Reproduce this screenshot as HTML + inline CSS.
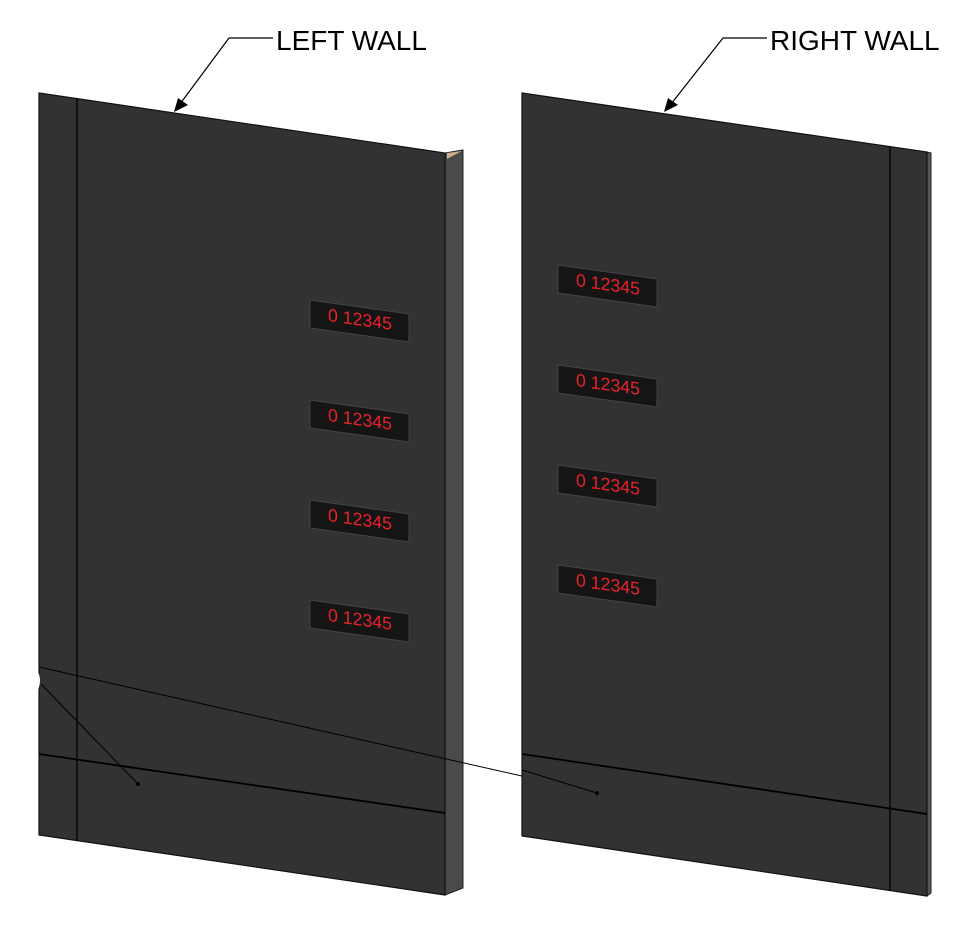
<!DOCTYPE html>
<html><head><meta charset="utf-8"><style>
html,body{margin:0;padding:0;background:#fff;width:972px;height:930px;overflow:hidden}
svg{display:block}
.lbl{font-family:"Liberation Sans",sans-serif;font-size:28px;fill:#000}
.d{font-family:"Liberation Sans",sans-serif;font-size:18px;fill:#e8232a}
</style></head><body>
<svg width="972" height="930" viewBox="0 0 972 930" xmlns="http://www.w3.org/2000/svg">
<defs>
<g id="disp">
  <polygon points="0,0 99,14 99,42 0,28" fill="#151515" stroke="#444" stroke-width="1"/>
  <text class="d" x="0" y="0" transform="translate(18,21) skewY(8)" textLength="64" lengthAdjust="spacingAndGlyphs">0 12345</text>
</g>
</defs>
<!-- LEFT WALL -->
<polygon points="445,153 463,150 463,888 445,895" fill="#4a4a4a" stroke="#222" stroke-width="1"/>
<polygon points="447,153 462,151 447,159" fill="#c9ad8c"/>
<polygon points="39,93 445,153 445,895 39,835" fill="#323234" stroke="#111" stroke-width="1.2"/>
<line x1="77" y1="99" x2="77" y2="841" stroke="#000" stroke-width="1.3"/>
<line x1="39" y1="754" x2="445" y2="813" stroke="#000" stroke-width="1.8"/>
<line x1="39" y1="667" x2="597" y2="793" stroke="#000" stroke-width="1"/>
<line x1="41" y1="684" x2="138" y2="784" stroke="#000" stroke-width="1"/>
<circle cx="138" cy="784" r="2" fill="#000"/>
<path d="M38,672 Q42,680 38,690 Z" fill="#fff"/>
<use href="#disp" x="310" y="300"/>
<use href="#disp" x="310" y="400"/>
<use href="#disp" x="310" y="500"/>
<use href="#disp" x="310" y="600"/>
<!-- RIGHT WALL -->
<polygon points="927,152 931,153 931,893 927,896" fill="#555" stroke="#222" stroke-width="1"/>
<polygon points="522,93 927,152 927,896 522,836" fill="#323234" stroke="#111" stroke-width="1.2"/>
<line x1="890" y1="147" x2="890" y2="891" stroke="#000" stroke-width="1.3"/>
<line x1="522" y1="754" x2="927" y2="814" stroke="#000" stroke-width="1.8"/>
<line x1="522" y1="770" x2="597" y2="793" stroke="#000" stroke-width="1"/>
<circle cx="597" cy="793" r="2" fill="#000"/>
<use href="#disp" x="558" y="265"/>
<use href="#disp" x="558" y="365"/>
<use href="#disp" x="558" y="465"/>
<use href="#disp" x="558" y="565"/>
<!-- Leaders -->
<polyline points="273,38 229,38 180,104" fill="none" stroke="#000" stroke-width="1.2"/>
<polygon points="174,112 178,98 188,105" fill="#000"/>
<text class="lbl" x="276" y="50">LEFT WALL</text>
<polyline points="767,38 723,38 671,104" fill="none" stroke="#000" stroke-width="1.2"/>
<polygon points="664,112 668,98 678,105" fill="#000"/>
<text class="lbl" x="770" y="50">RIGHT WALL</text>
</svg>
</body></html>
